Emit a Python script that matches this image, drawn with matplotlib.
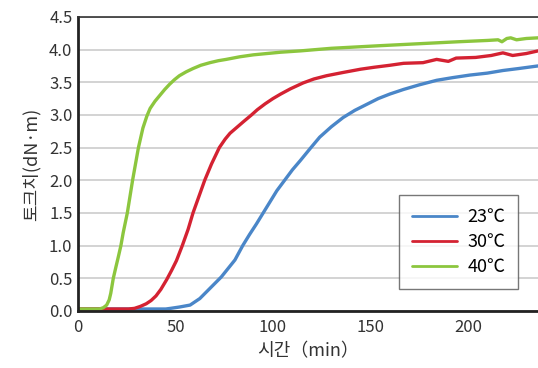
import numpy as np
import matplotlib
matplotlib.use("Agg")
import matplotlib.pyplot as plt

plt.rcParams['font.family'] = ['Noto Sans CJK KR', 'DejaVu Sans']

# values (time in min, torque in dN·m)
t_23 = [0, 45, 47.5, 52, 57.5, 62.5, 67.5, 70.5, 73.5, 77, 80.5, 84.5, 88, 91.5, 95, 98.5, 102, 106, 110, 114,
        119.5, 124, 130, 136, 142, 148, 154, 160, 167, 175, 184, 192, 201, 210, 218, 226, 236]
v_23 = [0.03, 0.03, 0.04, 0.06, 0.09, 0.19, 0.34, 0.43, 0.52, 0.65, 0.78, 1.0, 1.17, 1.33, 1.5, 1.67, 1.84, 2.0,
        2.16, 2.3, 2.5, 2.66, 2.82, 2.96, 3.07, 3.16, 3.25, 3.32, 3.39, 3.46, 3.53, 3.57, 3.61, 3.64, 3.68,
        3.71, 3.75]

t_30 = [0, 26, 29, 32, 35, 37.5, 40, 42.5, 45.5, 48, 50.5, 53.5, 56.5, 59, 62, 65, 68.5, 72.5, 75.5, 78,
        81.5, 85, 89, 92, 96, 100, 104, 109, 115.5, 121, 127.5, 136, 145, 152, 160, 167, 177, 184, 190, 194,
        204, 212, 218, 223, 230, 236]
v_30 = [0.03, 0.03, 0.04, 0.07, 0.11, 0.16, 0.23, 0.33, 0.48, 0.62, 0.77, 1.0, 1.25, 1.5, 1.75, 2.0, 2.25,
        2.5, 2.63, 2.72, 2.81, 2.9, 3.0, 3.08, 3.17, 3.25, 3.32, 3.4, 3.49, 3.55, 3.6, 3.65, 3.7, 3.73, 3.76,
        3.79, 3.8, 3.85, 3.82, 3.87, 3.88, 3.91, 3.95, 3.91, 3.94, 3.98]

t_40 = [0, 11, 13, 14.7, 16, 16.8, 18.1, 19.5, 20.7, 22, 23.2, 25.3, 28, 31, 33.3, 35.3, 37, 39.5, 42, 44.5,
        47, 49.5, 52, 55.5, 59, 63, 67.7, 72, 76, 83, 90, 97, 104, 114, 130, 155, 175, 195, 210, 215.5,
        217.5, 220, 222, 225, 230, 236]
v_40 = [0.03, 0.03, 0.05, 0.09, 0.17, 0.27, 0.5, 0.68, 0.83, 1.0, 1.2, 1.5, 2.0, 2.5, 2.8, 2.98, 3.1, 3.21,
        3.3, 3.39, 3.47, 3.54, 3.6, 3.66, 3.71, 3.76, 3.8, 3.83, 3.85, 3.89, 3.92, 3.94, 3.96, 3.98, 4.02,
        4.06, 4.09, 4.12, 4.14, 4.15, 4.12, 4.17, 4.18, 4.15, 4.17, 4.18]

series = [("23℃", t_23, v_23, "#4a86c8"),
          ("30℃", t_30, v_30, "#d42232"),
          ("40℃", t_40, v_40, "#8cc63e")]

fig = plt.figure(figsize=(5.38, 3.68), dpi=100)
ax = fig.add_axes([0.145, 0.155, 0.855, 0.799])

for label, t, v, c in series:
    ax.plot(t, v, color=c, linewidth=2.4, label=label,
            solid_capstyle='round', solid_joinstyle='round')

ax.set_xlim(0, 236)
ax.set_ylim(0, 4.5)
ax.set_xticks([0, 50, 100, 150, 200])
ax.set_yticks(np.arange(0, 4.51, 0.5))
ax.set_yticklabels([f"{y:.1f}" for y in np.arange(0, 4.51, 0.5)])
ax.yaxis.grid(True, color='#d0d0d0', linewidth=1.3)
ax.set_axisbelow(True)
ax.tick_params(length=0, labelsize=12, colors='#333333', pad=4)
ax.tick_params(axis='x', pad=6)

for s in ['left', 'bottom']:
    ax.spines[s].set_linewidth(2.0)
    ax.spines[s].set_color('#222222')
ax.spines['top'].set_linewidth(1.2)
ax.spines['top'].set_color('#333333')
ax.spines['right'].set_visible(False)

ax.set_xlabel("시간（min）", fontsize=13, color='#333333', labelpad=4)
ax.set_ylabel("토크치(dN·m)", fontsize=13, color='#333333', labelpad=6)

leg = ax.legend(loc='lower right', bbox_to_anchor=(0.957, 0.075), fontsize=13, frameon=True,
                fancybox=False, edgecolor='#555555', handlelength=2.5, borderpad=0.7,
                labelspacing=0.4, handletextpad=0.6, borderaxespad=0)
leg.get_frame().set_linewidth(1.0)
for line in leg.get_lines():
    line.set_linewidth(2.0)

fig.savefig("out.png", dpi=100)
